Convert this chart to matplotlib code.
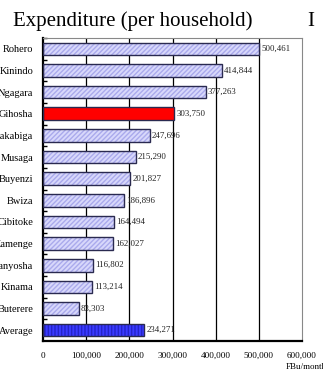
import matplotlib
matplotlib.use("Agg")
import matplotlib.pyplot as plt
import numpy as np

categories = ["Rohero", "Kinindo", "Ngagara", "Gihosha", "Nyakabiga", "Musaga",
              "Buyenzi", "Bwiza", "Cibitoke", "Kamenge", "Kanyosha", "Kinama",
              "Buterere", "Average"]
values = [500461, 414844, 377263, 303750, 247696, 215290, 201827, 186896,
          164494, 162027, 116802, 113214, 83303, 234271]
xticks = [0, 100000, 200000, 300000, 400000, 500000, 600000]

plt.rcParams['font.family'] = ['Liberation Serif', 'DejaVu Serif']

fig = plt.figure(figsize=(3.23, 3.76), dpi=100)
ax = fig.add_axes([43/323, 1 - 341/376, 259/323, 303/376])

y = np.arange(len(categories))
face = []
hatch = []
hcol = []
for c in categories:
    if c == "Gihosha":
        face.append("#ff0000"); hatch.append(None); hcol.append("#ff0000")
    elif c == "Average":
        face.append("#3a3aff"); hatch.append("|||||"); hcol.append("#2424c8")
    else:
        face.append("#d8d8fb"); hatch.append("///////"); hcol.append("#aaaaec")

for yi, v, fc, h, hc in zip(y, values, face, hatch, hcol):
    ax.barh(yi, v, height=0.58, color=fc, edgecolor=hc, hatch=h,
            linewidth=0, zorder=2)
ax.barh(y, values, height=0.58, fill=False, edgecolor="#2a2a50",
        linewidth=1.0, zorder=3)

for yi, v in zip(y, values):
    ax.text(v + 5000, yi, f"{v:,}", va="center", ha="left", fontsize=6.4,
            color="#222222", zorder=4)

ax.set_xlim(0, 600000)
ax.set_ylim(len(categories) - 0.5, -0.5)
ax.set_xticks(xticks)
ax.set_xticklabels([f"{t:,}" for t in xticks], fontsize=6.6)
ax.tick_params(axis="x", length=0, pad=8)
ax.set_yticks(y)
ax.set_yticklabels(categories, fontsize=7.5)
ax.tick_params(axis="y", which="major", length=0, pad=7)
ax.set_yticks(np.arange(len(categories)) - 0.5, minor=True)
ax.tick_params(axis="y", which="minor", direction="in", length=3, width=1,
               color="black")

for t in xticks[1:-1]:
    ax.axvline(t, color="black", linewidth=0.9, zorder=1)

ax.spines["left"].set_linewidth(1.6)
ax.spines["bottom"].set_linewidth(1.6)
ax.spines["top"].set_color("#888888")
ax.spines["right"].set_color("#888888")
ax.spines["top"].set_linewidth(0.8)
ax.spines["right"].set_linewidth(0.8)

fig.text(132.5/323, 1 - 26/376, "Expenditure (per household)", ha="center",
         va="baseline", fontsize=15)
fig.text(307/323, 1 - 26/376, "I", ha="left", va="baseline", fontsize=15)
fig.text(286/323, 1 - 367/376, "FBu/month", ha="left", va="center",
         fontsize=6.5)

fig.savefig("out.png", dpi=100)
